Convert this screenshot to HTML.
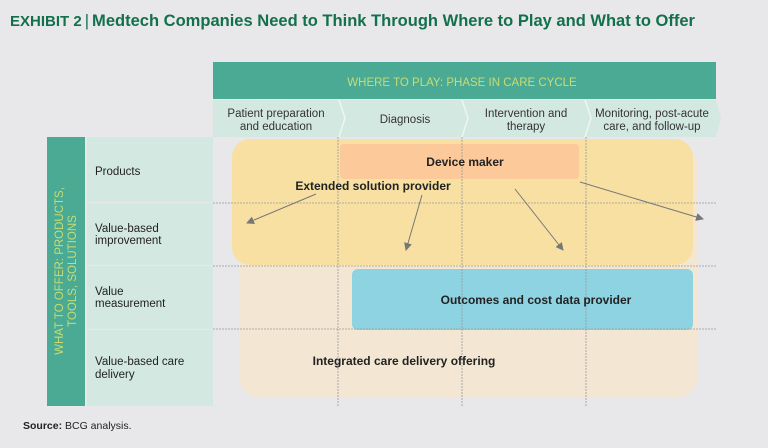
<!DOCTYPE html>
<html><head><style>
body{margin:0;width:768px;height:443px;background:#e8e8ea;overflow:hidden;font-family:"Liberation Sans",sans-serif}
</style></head><body>
<svg width="768" height="443" xmlns="http://www.w3.org/2000/svg" font-family="Liberation Sans, sans-serif">
<rect width="768" height="443" fill="#e8e8ea"/>
<text x="10" y="26" font-size="16.5" font-weight="bold" fill="#13704c" textLength="685" lengthAdjust="spacingAndGlyphs"><tspan font-size="15">EXHIBIT 2</tspan><tspan dx="3" font-weight="normal">|</tspan><tspan dx="3">Medtech Companies Need to Think Through Where to Play and What to Offer</tspan></text>
<rect x="213" y="62" width="503" height="37" fill="#4aaa94"/>
<text x="462" y="86" font-size="11.5" fill="#c9dc72" text-anchor="middle">WHERE TO PLAY: PHASE IN CARE CYCLE</text>
<path d="M213 100 H716 L721 118 L716 137 H213 Z" fill="#d4e8e2"/>
<g stroke="#eef5f3" stroke-width="1.5" fill="none">
<path d="M339 100 L345 118 L339 137"/><path d="M462 100 L468 118 L462 137"/><path d="M585 100 L591 118 L585 137"/></g>
<g font-size="11.5" fill="#333" text-anchor="middle">
<text x="276" y="117">Patient preparation</text><text x="276" y="130">and education</text>
<text x="405" y="123">Diagnosis</text>
<text x="526" y="117">Intervention and</text><text x="526" y="130">therapy</text>
<text x="652" y="117">Monitoring, post-acute</text><text x="652" y="130">care, and follow-up</text></g>
<rect x="47" y="137" width="38" height="269" fill="#4aaa94"/>
<g transform="translate(66,271) rotate(-90)" font-size="11.5" fill="#c9dc72" text-anchor="middle">
<text x="0" y="-3">WHAT TO OFFER: PRODUCTS,</text><text x="0" y="10">TOOLS, SOLUTIONS</text></g>
<rect x="87" y="137" width="126" height="65" fill="#d4e8e2"/>
<rect x="87" y="203" width="126" height="62" fill="#d4e8e2"/>
<rect x="87" y="266" width="126" height="63" fill="#d4e8e2"/>
<rect x="87" y="330" width="126" height="76" fill="#d4e8e2"/>
<g font-size="11.5" fill="#222">
<text x="95" y="175">Products</text>
<text x="95" y="232">Value-based</text><text x="95" y="244">improvement</text>
<text x="95" y="295">Value</text><text x="95" y="307">measurement</text>
<text x="95" y="365">Value-based care</text><text x="95" y="378">delivery</text></g>
<rect x="239" y="146" width="459" height="252" rx="22" fill="#f3e7d3"/>
<rect x="232" y="139" width="461" height="126" rx="18" fill="#f8e0a2"/>
<rect x="340" y="144" width="239" height="35" rx="4" fill="#fcc99a"/>
<rect x="352" y="269" width="341" height="61" rx="6" fill="#8dd3e2"/>
<g stroke="#999" stroke-width="0.8" stroke-dasharray="2,1" fill="none">
<line x1="338" y1="137" x2="338" y2="406"/><line x1="462" y1="137" x2="462" y2="406"/><line x1="586" y1="137" x2="586" y2="406"/>
<line x1="213" y1="203" x2="717" y2="203"/><line x1="213" y1="266" x2="717" y2="266"/><line x1="213" y1="329" x2="717" y2="329"/></g>
<g font-size="12" font-weight="bold" fill="#222" text-anchor="middle">
<text x="465" y="166">Device maker</text>
<text x="373" y="190">Extended solution provider</text>
<text x="536" y="304">Outcomes and cost data provider</text>
<text x="404" y="365">Integrated care delivery offering</text></g>
<defs><marker id="a" markerWidth="8" markerHeight="8" refX="7" refY="4" orient="auto" markerUnits="userSpaceOnUse"><path d="M0 0 L8 4 L0 8 Z" fill="#777"/></marker></defs>
<g stroke="#777" stroke-width="1" marker-end="url(#a)">
<line x1="316" y1="194" x2="247" y2="223"/><line x1="422" y1="195" x2="406" y2="250"/>
<line x1="515" y1="189" x2="563" y2="250"/><line x1="580" y1="182" x2="703" y2="219"/></g>
<text x="23" y="429" font-size="10.5" fill="#222"><tspan font-weight="bold">Source:</tspan> BCG analysis.</text>
</svg>
</body></html>
